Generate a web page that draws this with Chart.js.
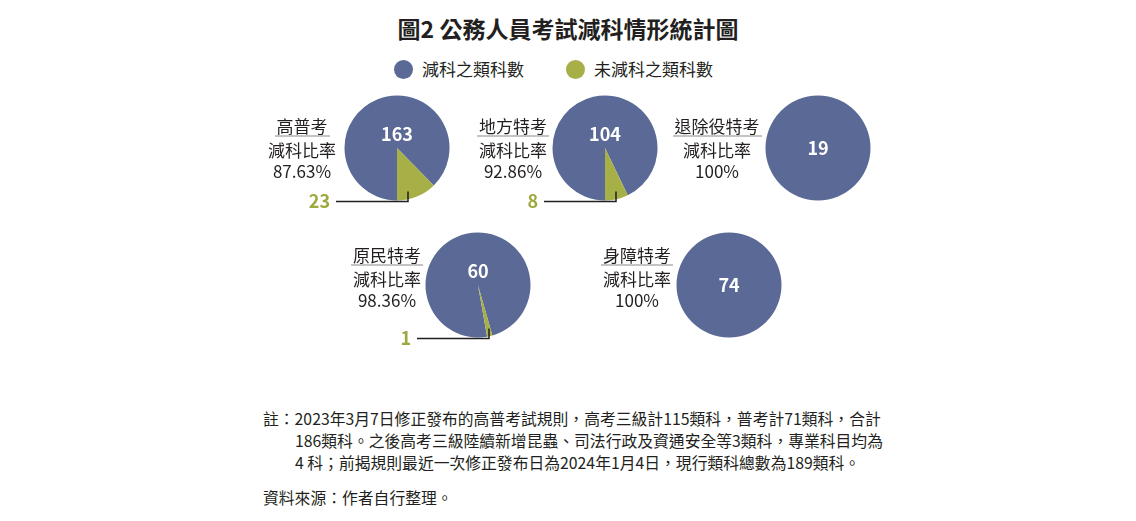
<!DOCTYPE html>
<html lang="zh-Hant">
<head>
<meta charset="UTF-8">
<title>圖2 公務人員考試減科情形統計圖</title>
<script src="https://cdn.jsdelivr.net/npm/chart.js"></script>
<style>
    body {
        margin: 0;
        width: 1136px;
        height: 521px;
        overflow: hidden;
        background: #fff;
        font-family: "Noto Sans CJK TC", "Noto Sans", sans-serif;
        color: #231f20;
        position: relative;
    }

    h1 {
        position: absolute;
        left: 0;
        width: 1136px;
        top: 13px;
        margin: 0;
        text-align: center;
        font-size: 23px;
        line-height: 30px;
        font-weight: bold;
    }

    .legend {
        position: absolute;
        left: 394px;
        top: 57px;
        display: flex;
        font-size: 17px;
        line-height: 24px;
    }

    .legend span {
        display: flex;
        align-items: center;
        margin-right: 42px;
    }

    .legend i {
        display: inline-block;
        width: 19px;
        height: 19px;
        border-radius: 50%;
        margin-right: 9px;
    }

    canvas {
        position: absolute;
    }

    .side {
        position: absolute;
        width: 120px;
        text-align: center;
        font-size: 17px;
    }

    .side .name {
        display: inline-block;
        line-height: 19px;
        padding: 0 2px;
        border-bottom: 2px solid #c4c4c4;
    }

    .side div {
        line-height: 21px;
    }

    .note {
        position: absolute;
        left: 263px;
        top: 408px;
        width: 700px;
        font-size: 15.8px;
        line-height: 22px;
    }

    .note p {
        margin: 0;
        padding-left: 32px;
        text-indent: -32px;
    }

    .note p.src {
        margin-top: 13px;
    }
</style>
</head>
<body>
<h1>圖2 公務人員考試減科情形統計圖</h1>
<div class="legend" id="legend"></div>
<div id="charts"></div>
<div class="note">
    <p>註：2023年3月7日修正發布的高普考試規則，高考三級計115類科，普考計71類科，合計<br>186類科。之後高考三級陸續新增昆蟲、司法行政及資通安全等3類科，專業科目均為<br>4 科；前揭規則最近一次修正發布日為2024年1月4日，現行類科總數為189類科。</p>
    <p class="src">資料來源：作者自行整理。</p>
</div>

<script>
    // 資料
    const categories = ['高普考', '地方特考', '退除役特考', '原民特考', '身障特考'];
    const reducedCounts = [163, 104, 19, 60, 74];
    const unreducedCounts = [23, 8, 0, 1, 0];
    const reductionRates = ['87.63%', '92.86%', '100%', '98.36%', '100%'];
    const seriesLabels = ['減科之類科數', '未減科之類科數'];

    const blue = '#5a6996';
    const green = '#a7af47';

    // 每個圓餅的位置 (中心點) 與起始角度
    const layout = [
        { cx: 397, cy: 148, rot: 180, labelX: 302, labelTop: 113 },
        { cx: 605, cy: 148, rot: 180, labelX: 513, labelTop: 113 },
        { cx: 818, cy: 148, rot: 180, labelX: 717, labelTop: 113 },
        { cx: 478, cy: 285, rot: 170, labelX: 387, labelTop: 242 },
        { cx: 729, cy: 285, rot: 180, labelX: 637, labelTop: 242 }
    ];
    const R = 52.5;
    const W = 260, H = 150, OX = 200, OY = 65;

    // 圖例
    const legend = document.getElementById('legend');
    [blue, green].forEach(function (c, i) {
        const s = document.createElement('span');
        s.innerHTML = '<i style="background:' + c + '"></i>' + seriesLabels[i];
        legend.appendChild(s);
    });

    // 數值標籤與引線
    const valueLabels = {
        id: 'valueLabels',
        afterDatasetsDraw(chart) {
            const ctx = chart.ctx;
            const arcs = chart.getDatasetMeta(0).data;
            const vals = chart.data.datasets[0].data;
            const x = arcs[0].x, y = arcs[0].y, r = arcs[0].outerRadius;
            ctx.save();
            ctx.font = 'bold 18px "Noto Sans CJK TC", "Noto Sans", sans-serif';
            ctx.textBaseline = 'middle';
            ctx.textAlign = 'center';
            ctx.fillStyle = '#fff';
            ctx.fillText(vals[0], x, vals[1] > 0 ? y - 14 : y);
            if (vals[1] > 0) {
                const ly = y + r + 1;
                ctx.textAlign = 'right';
                ctx.fillStyle = '#9fa83c';
                ctx.fillText(vals[1], x - 67, ly);
                ctx.strokeStyle = '#231f20';
                ctx.lineWidth = 1.5;
                ctx.beginPath();
                ctx.moveTo(x - 61, ly);
                ctx.lineTo(x + 11, ly);
                ctx.lineTo(x + 11, ly - 10);
                ctx.stroke();
            }
            ctx.restore();
        }
    };

    const holder = document.getElementById('charts');
    categories.forEach(function (name, i) {
        const p = layout[i];
        const cv = document.createElement('canvas');
        cv.width = W;
        cv.height = H;
        cv.style.left = (p.cx - OX) + 'px';
        cv.style.top = (p.cy - OY) + 'px';
        holder.appendChild(cv);

        new Chart(cv.getContext('2d'), {
            type: 'pie',
            data: {
                labels: seriesLabels,
                datasets: [{
                    data: [reducedCounts[i], unreducedCounts[i]],
                    backgroundColor: [blue, green],
                    borderWidth: 0,
                    hoverOffset: 0
                }]
            },
            options: {
                responsive: false,
                animation: false,
                rotation: p.rot,
                layout: { padding: { left: OX - R, right: W - OX - R, top: OY - R, bottom: H - OY - R } },
                plugins: { legend: { display: false }, tooltip: { enabled: false } },
                events: []
            },
            plugins: [valueLabels]
        });

        const side = document.createElement('div');
        side.className = 'side';
        side.style.left = (p.labelX - 60) + 'px';
        side.style.top = p.labelTop + 'px';
        side.innerHTML = '<span class="name">' + name + '</span><div style="margin-top:1px">減科比率</div><div>' + reductionRates[i] + '</div>';
        holder.appendChild(side);
    });
</script>
</body>
</html>
